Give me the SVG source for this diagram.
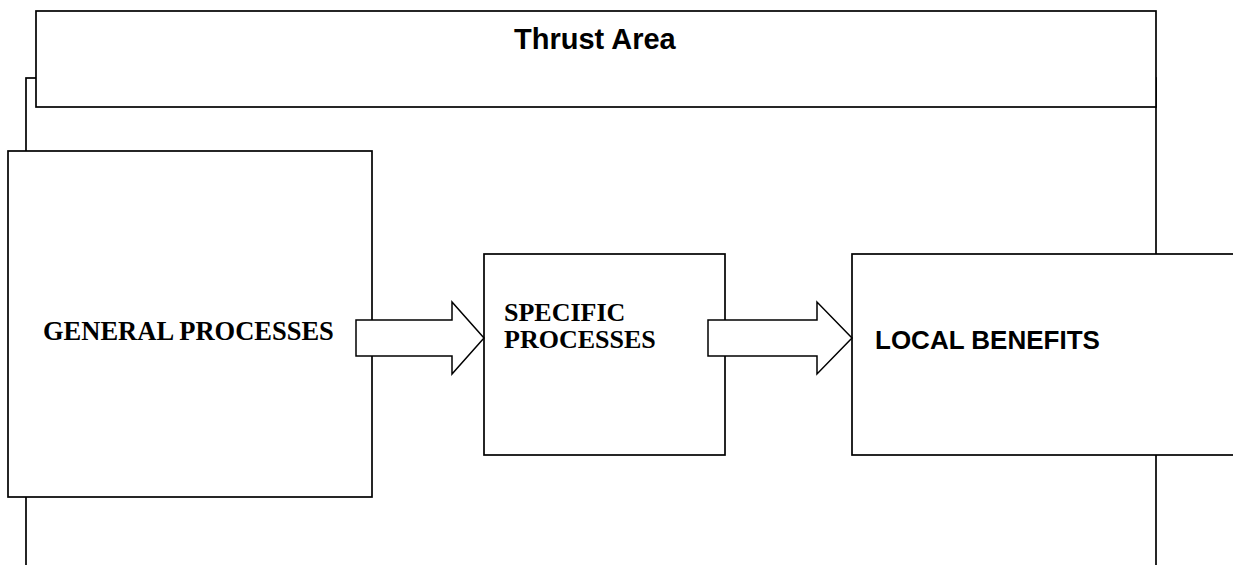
<svg xmlns="http://www.w3.org/2000/svg" width="1233" height="565" viewBox="0 0 1233 565">
<style>
.box{fill:#fff;stroke:#000;stroke-width:1.7}
.frame{fill:none;stroke:#000;stroke-width:1.7}
.arrow{fill:#fff;stroke:#000;stroke-width:1.5;stroke-linejoin:miter}
.sans{font-family:"Liberation Sans",Arial,sans-serif;font-weight:bold;fill:#000}
.serif{font-family:"Liberation Serif","Times New Roman",serif;font-weight:bold;fill:#000}
</style>
<rect width="1233" height="565" fill="#fff"/>
<g id="frame">
<rect class="frame" x="26" y="78" width="1130" height="540"/>
</g>
<g id="thrust-area">
<rect class="box" x="36" y="11" width="1120" height="96"/>
<text class="sans" x="514" y="49" font-size="29">Thrust Area</text>
</g>
<g id="general-processes">
<rect class="box" x="8" y="151" width="364" height="346"/>
<text class="serif" x="43" y="340" font-size="26.5">GENERAL PROCESSES</text>
</g>
<g id="specific-processes">
<rect class="box" x="484" y="254" width="241" height="201"/>
<text class="serif" x="504" y="321" font-size="26">SPECIFIC</text>
<text class="serif" x="504" y="348" font-size="26">PROCESSES</text>
</g>
<g id="local-benefits">
<rect class="box" x="852" y="254" width="400" height="201"/>
<text class="sans" x="875" y="349" font-size="26">LOCAL BENEFITS</text>
</g>
<g id="connectors">
<polygon class="arrow" points="356,320 452,320 452,302 484,338 452,374 452,356 356,356"/>
<polygon class="arrow" points="708,320 817,320 817,302 852,338 817,374 817,356 708,356"/>
</g>
</svg>
